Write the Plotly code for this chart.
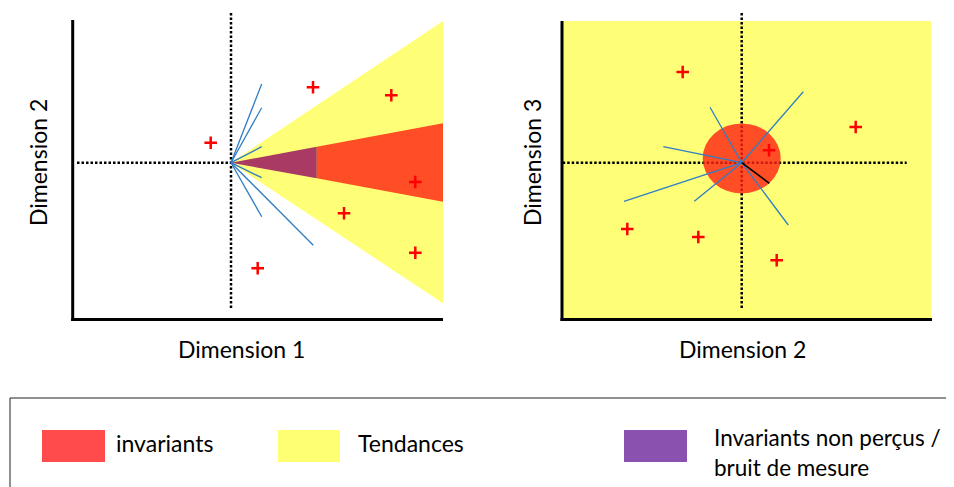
import plotly.graph_objects as go

# ---------------- data (panel units, origin at the crosshair) ----------------
# Left panel (Dimension 1 vs Dimension 2)
tend_cone_x = [0.0, 2.12, 2.12, 0.0]
tend_cone_y = [0.0, 1.417, -1.406, 0.0]
inv_x = [0.857, 2.12, 2.12, 0.857, 0.857]
inv_y = [0.16, 0.394, -0.39, -0.156, 0.16]
noise_x = [0.0, 0.857, 0.857, 0.0]
noise_y = [0.0, 0.16, -0.156, 0.0]
left_vec_x = [0.307, 0.307, 0.307, 0.307, 0.307, 0.823]
left_vec_y = [0.787, 0.55, 0.16, -0.15, -0.54, -0.826]
left_pts_x = [-0.203, 0.82, 1.603, 1.843, 1.13, 1.843, 0.267]
left_pts_y = [0.20, 0.754, 0.674, -0.193, -0.506, -0.90, -1.056]
left_hline = [-1.54, 1.87]
left_vline = [1.497, -1.473]

# Right panel (Dimension 2 vs Dimension 3)
tend_rect_x = [-1.797, 1.893]
tend_rect_y = [-1.568, 1.417]
inv_circle_x = [-0.39, 0.39]
inv_circle_y = [-0.307, 0.393]
right_vec_x = [-0.317, 0.616, -0.784, -1.177, -0.474, 0.466]
right_vec_y = [0.554, 0.71, 0.16, -0.386, -0.386, -0.623]
black_vec_x = [0.276]
black_vec_y = [-0.206]
right_pts_x = [-0.59, 1.14, 0.273, -1.144, -0.434, 0.35]
right_pts_y = [0.907, 0.357, 0.124, -0.663, -0.743, -0.976]
right_hline = [-1.79, 1.65]
right_vline = [1.497, -1.473]

legend_labels = ["invariants", "Tendances", "Invariants non perçus /", "bruit de mesure"]
axis_titles = ["Dimension 1", "Dimension 2", "Dimension 2", "Dimension 3"]

# ---------------- styles ----------------
OFF = 8  # page body margin
W, H = 954 - OFF, 487 - OFF
FONT = "Lato, 'Open Sans', sans-serif"
YELLOW = "#FFFF77"
RED_A = "rgba(255,33,18,0.8)"
PURPLE_A = "rgba(148,9,94,0.8)"
BLUE = "#2F7DC6"
DOT = "2.5px,2px"


def px(v):
    return (v - OFF) / W


def py(v):
    return (H - (v - OFF)) / H


def rays(xs, ys):
    X, Y = [], []
    for a, b in zip(xs, ys):
        X += [0, a, None]
        Y += [0, b, None]
    return X, Y


fig = go.Figure()

# left panel traces
fig.add_trace(go.Scatter(x=tend_cone_x, y=tend_cone_y, fill="toself", fillcolor=YELLOW,
                         line=dict(width=0), mode="lines", xaxis="x", yaxis="y", hoverinfo="skip"))
fig.add_trace(go.Scatter(x=inv_x, y=inv_y, fill="toself", fillcolor=RED_A,
                         line=dict(width=0), mode="lines", xaxis="x", yaxis="y", hoverinfo="skip"))
fig.add_trace(go.Scatter(x=noise_x, y=noise_y, fill="toself", fillcolor=PURPLE_A,
                         line=dict(width=0), mode="lines", xaxis="x", yaxis="y", hoverinfo="skip"))
lx, ly = rays(left_vec_x, left_vec_y)
fig.add_trace(go.Scatter(x=lx, y=ly, mode="lines", line=dict(color=BLUE, width=1.3),
                         xaxis="x", yaxis="y", hoverinfo="skip"))
fig.add_trace(go.Scatter(x=left_pts_x, y=left_pts_y, mode="markers",
                         marker=dict(symbol="cross-thin", size=9, line=dict(width=2.5, color="#FF0000")),
                         xaxis="x", yaxis="y", hoverinfo="skip"))

# right panel traces
rx, ry = rays(right_vec_x, right_vec_y)
fig.add_trace(go.Scatter(x=rx, y=ry, mode="lines", line=dict(color=BLUE, width=1.3),
                         xaxis="x2", yaxis="y2", hoverinfo="skip"))
bx, by = rays(black_vec_x, black_vec_y)
fig.add_trace(go.Scatter(x=bx, y=by, mode="lines", line=dict(color="black", width=1.6),
                         xaxis="x2", yaxis="y2", hoverinfo="skip"))
fig.add_trace(go.Scatter(x=right_pts_x, y=right_pts_y, mode="markers",
                         marker=dict(symbol="cross-thin", size=9, line=dict(width=2.5, color="#FF0000")),
                         xaxis="x2", yaxis="y2", hoverinfo="skip"))

shapes = []
# right yellow background
shapes.append(dict(type="rect", xref="x2", yref="y2", layer="below",
                   x0=tend_rect_x[0], x1=tend_rect_x[1], y0=tend_rect_y[0], y1=tend_rect_y[1],
                   fillcolor=YELLOW, line=dict(width=0)))
# dotted crosshairs
for xr, yr, hl, vl in [("x", "y", left_hline, left_vline), ("x2", "y2", right_hline, right_vline)]:
    shapes.append(dict(type="line", xref=xr, yref=yr, layer="below", x0=hl[0], x1=hl[1], y0=0, y1=0,
                       line=dict(color="black", width=2.5, dash=DOT)))
    shapes.append(dict(type="line", xref=xr, yref=yr, layer="below", x0=0, x1=0, y0=vl[0], y1=vl[1],
                       line=dict(color="black", width=2.5, dash=DOT)))
# invariant circle
shapes.append(dict(type="circle", xref="x2", yref="y2", layer="below",
                   x0=inv_circle_x[0], x1=inv_circle_x[1], y0=inv_circle_y[0], y1=inv_circle_y[1],
                   fillcolor=RED_A, line=dict(width=0)))

# axis lines (thick black, left and bottom)
ytop_left = (319.5 - 20) / (319.5 - 13)
ytop_right = (319.5 - 21) / (319.5 - 13)
for xd, yd, ytop in [("x domain", "y domain", ytop_left), ("x2 domain", "y2 domain", ytop_right)]:
    shapes.append(dict(type="line", xref=xd, yref=yd, x0=0, x1=0, y0=-0.005, y1=ytop,
                       line=dict(color="black", width=3)))
    shapes.append(dict(type="line", xref=xd, yref=yd, x0=-0.004, x1=1, y0=0, y1=0,
                       line=dict(color="black", width=3)))

# legend box and swatches
shapes.append(dict(type="rect", xref="paper", yref="paper", x0=px(10), x1=px(960), y0=py(492), y1=py(398),
                   line=dict(color="#222222", width=1), fillcolor="rgba(0,0,0,0)"))
for (x0, x1), col in [((42, 105), "#FF4B4B"), ((278, 340), "#FFFF73"), ((624, 687), "#8A52AE")]:
    shapes.append(dict(type="rect", xref="paper", yref="paper", x0=px(x0), x1=px(x1), y0=py(462), y1=py(430),
                       fillcolor=col, line=dict(width=0)))

annotations = []
FS = 23
for txt, (x, y), fs in zip(legend_labels, [(114, 443), (356, 443), (712, 437), (712, 467)], [23, 23, 22.5, 22.5]):
    annotations.append(dict(text=txt, xref="paper", yref="paper", x=px(x), y=py(y), xanchor="left",
                            yanchor="middle", showarrow=False, font=dict(family=FONT, size=fs, color="black")))
for txt, (x, y), ang in zip(axis_titles, [(241, 349), (742, 349), (38, 163), (532, 163)], [0, 0, -90, -90]):
    annotations.append(dict(text=txt, xref="paper", yref="paper", x=px(x), y=py(y), xanchor="center",
                            yanchor="middle", textangle=ang, showarrow=False,
                            font=dict(family=FONT, size=FS, color="black")))

ax_common = dict(showgrid=False, zeroline=False, showticklabels=False, ticks="", showline=False, fixedrange=True)
ydom = [py(319.5), py(13)]
yrng = [(162.7 - 319.5) / 100, (162.7 - 13) / 100]

fig.update_layout(
    width=W, height=H, margin=dict(l=0, r=0, t=0, b=0),
    paper_bgcolor="white", plot_bgcolor="rgba(0,0,0,0)",
    showlegend=False,
    xaxis=dict(domain=[px(72.7), px(443)], range=[(72.7 - 231) / 100, (443 - 231) / 100], **ax_common),
    yaxis=dict(domain=ydom, range=yrng, **ax_common),
    xaxis2=dict(domain=[px(562), px(932)], range=[(562 - 741.7) / 100, (932 - 741.7) / 100], anchor="y2", **ax_common),
    yaxis2=dict(domain=ydom, range=yrng, anchor="x2", **ax_common),
    shapes=shapes, annotations=annotations,
)

fig.write_html("out.html")
